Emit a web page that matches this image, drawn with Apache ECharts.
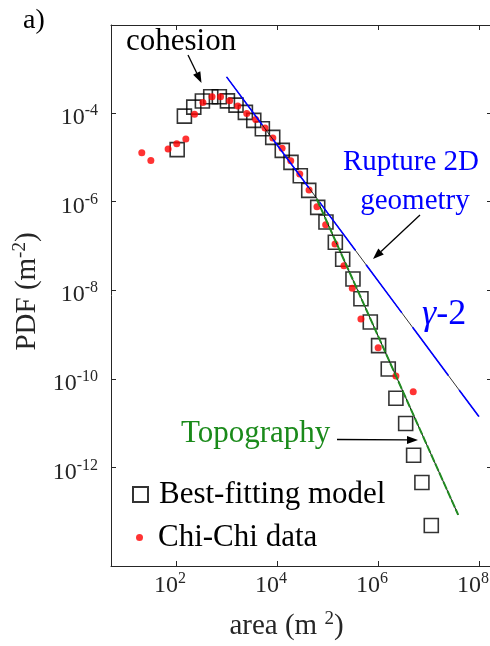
<!DOCTYPE html>
<html>
<head>
<meta charset="utf-8">
<script src="https://cdn.jsdelivr.net/npm/echarts@6/dist/echarts.min.js"></script>
<style>
html, body { margin: 0; padding: 0; background: #fff; }
#main { width: 490px; height: 646px; }
</style>
</head>
<body>
<div id="main"></div>
<script>
// best-fitting model (open squares)
var modelArea = [105, 146, 224, 332, 486, 719, 1040, 1540, 2360, 3460, 5120, 8220,
    1.27e4, 1.89e4, 2.89e4, 4.25e4, 6.40e4, 9.33e4, 1.43e5, 2.00e5, 3.20e5, 4.60e5,
    7.05e5, 1.03e6, 1.60e6, 2.27e6, 3.54e6, 5.09e6, 7.43e6, 1.14e7];
var modelPdf = [1.48e-5, 8.43e-5, 1.34e-4, 1.84e-4, 2.30e-4, 2.30e-4, 1.86e-4, 1.49e-4,
    1.02e-4, 6.75e-5, 4.36e-5, 2.79e-5, 1.42e-5, 7.62e-6, 3.80e-6, 1.78e-6, 7.38e-7,
    3.44e-7, 1.20e-7, 4.97e-8, 1.79e-8, 6.43e-9, 1.92e-9, 5.61e-10, 1.67e-10, 3.66e-11,
    9.82e-12, 1.90e-12, 4.59e-13, 4.93e-14];

// Chi-Chi data (red dots)
var dataArea = [20.9, 31.6, 69.5, 103, 156, 232, 340, 516, 760, 1150, 1670, 2510, 3780,
    5780, 8260, 1.26e4, 1.87e4, 2.82e4, 4.31e4, 6.19e4, 9.20e4, 1.41e5, 2.12e5, 3.10e5,
    4.60e5, 1.01e6, 2.27e6, 5.00e6];
var dataPdf = [1.26e-5, 8.38e-6, 1.52e-5, 2.00e-5, 2.58e-5, 9.25e-5, 1.71e-4, 2.29e-4,
    2.29e-4, 1.88e-4, 1.43e-4, 9.68e-5, 7.10e-5, 4.52e-5, 2.69e-5, 1.58e-5, 8.24e-6,
    4.16e-6, 1.81e-6, 7.62e-7, 2.99e-7, 1.10e-7, 3.56e-8, 1.10e-8, 2.24e-9, 5.06e-10,
    1.16e-10, 5.13e-11];

// power-law guides
var ruptureArea = [1e3, 1e8];
var rupturePdf = [6.46e-4, 1.41e-11];
var topoArea = [6.11e4, 3.89e7];
var topoPdf = [1.14e-6, 8.59e-14];

// tick exponents
var xTickExp = [2, 4, 6, 8];
var yTickExp = [-12, -10, -8, -6, -4];

var FONT = 'Liberation Serif';
var AXIS_COL = '#262626';

function logPairs(xs, ys) {
    return xs.map(function (x, i) { return [Math.log10(x), Math.log10(ys[i])]; });
}

var powRich = {
    b: { fontFamily: FONT, fontSize: 24, color: AXIS_COL, verticalAlign: 'bottom', lineHeight: 24 },
    s: { fontFamily: FONT, fontSize: 16, color: AXIS_COL, verticalAlign: 'bottom', lineHeight: 16, padding: [0, 0, 11, 0] }
};
function powLabel(v) { return '{b|10}{s|' + v + '}'; }

var nameRich = {
    a: { fontFamily: FONT, fontSize: 29, color: AXIS_COL, verticalAlign: 'bottom', lineHeight: 29 },
    s: { fontFamily: FONT, fontSize: 19, color: AXIS_COL, verticalAlign: 'bottom', lineHeight: 19, padding: [0, 0, 12, 0] }
};

function arrow(x1, y1, x2, y2) {
    var a = Math.atan2(y2 - y1, x2 - x1), L = 11, W = 4;
    var bx = x2 - L * Math.cos(a), by = y2 - L * Math.sin(a);
    return {
        type: 'group', children: [
            { type: 'line', shape: { x1: x1, y1: y1, x2: bx, y2: by }, style: { stroke: '#000', lineWidth: 1.3 } },
            { type: 'polygon', shape: { points: [[x2, y2],
                [bx + W * Math.sin(a), by - W * Math.cos(a)],
                [bx - W * Math.sin(a), by + W * Math.cos(a)]] }, style: { fill: '#000' } }
        ]
    };
}

function txt(str, x, y, size, color, align, rich) {
    return { type: 'text', x: x, y: y, style: { text: str, font: size + 'px "' + FONT + '"',
        fill: color, align: align || 'left', verticalAlign: 'middle', rich: rich } };
}

var xCommon = {
    type: 'value', min: 0.71, max: 8.26,
    axisLine: { lineStyle: { color: AXIS_COL, width: 1 } },
    axisTick: { inside: true, length: 5, customValues: xTickExp, lineStyle: { color: AXIS_COL } },
    splitLine: { show: false }
};
var yCommon = {
    type: 'value', min: -14.22, max: -2.02,
    axisLine: { lineStyle: { color: AXIS_COL, width: 1 } },
    axisTick: { inside: true, length: 5, customValues: yTickExp, lineStyle: { color: AXIS_COL } },
    splitLine: { show: false }
};

var legendText = { fontFamily: FONT, fontSize: 31, color: '#000' };

var chart = echarts.init(document.getElementById('main'));
chart.setOption({
    animation: false,
    backgroundColor: '#fff',
    grid: { left: 111, right: -2, top: 25, bottom: 80, containLabel: false, outerBoundsMode: 'none' },
    xAxis: [
        Object.assign({}, xCommon, {
            position: 'bottom',
            axisLabel: { customValues: xTickExp, formatter: powLabel, rich: powRich, margin: 8,
                padding: [0, 12, 0, 0] },
            name: '{a|area (m }{s|2}{a|)}', nameLocation: 'middle', nameGap: 46,
            nameTextStyle: { rich: nameRich, padding: [0, 30, 0, 0] }
        }),
        Object.assign({}, xCommon, { position: 'top', axisLabel: { show: false } })
    ],
    yAxis: [
        Object.assign({}, yCommon, {
            position: 'left',
            axisLabel: { customValues: yTickExp, formatter: powLabel, rich: powRich, margin: 13,
                padding: [10, 0, 0, 0] },
            name: '{a|PDF (m}{s|-2}{a|)}', nameLocation: 'middle', nameGap: 64,
            nameTextStyle: { rich: nameRich, padding: [0, 0, 0, 8] }
        }),
        Object.assign({}, yCommon, { position: 'right', axisLabel: { show: false } })
    ],
    legend: [
        { data: ['Best-fitting model'], left: 132, top: 479, padding: 0, itemWidth: 15, itemHeight: 15,
          selectedMode: false, textStyle: Object.assign({ padding: [0, 0, 0, 6] }, legendText) },
        { data: ['Chi-Chi data'], left: 136, top: 522, padding: 0, itemWidth: 7, itemHeight: 7,
          selectedMode: false, textStyle: Object.assign({ padding: [0, 0, 0, 10] }, legendText) }
    ],
    series: [
        { name: 'Best-fitting model', type: 'scatter', data: logPairs(modelArea, modelPdf),
          symbol: 'rect', symbolSize: 14, z: 2,
          itemStyle: { color: 'rgba(0,0,0,0)', borderColor: '#000', borderWidth: 1.6 } },
        { name: 'Chi-Chi data', type: 'scatter', data: logPairs(dataArea, dataPdf),
          symbol: 'circle', symbolSize: 7, z: 3, itemStyle: { color: '#ff0000' } },
        { type: 'line', data: logPairs(ruptureArea, rupturePdf), symbol: 'none', z: 4,
          lineStyle: { color: '#000', width: 0.8 } },
        { type: 'line', data: logPairs(ruptureArea, rupturePdf), symbol: 'none', z: 5,
          lineStyle: { color: '#0000ff', width: 1.6, type: [60, 18] } },
        { type: 'line', data: logPairs(topoArea, topoPdf), symbol: 'none', z: 4,
          lineStyle: { color: '#000', width: 1 } },
        { type: 'line', data: logPairs(topoArea, topoPdf), symbol: 'none', z: 5,
          lineStyle: { color: '#228b22', width: 2, type: [8, 2] } }
    ],
    graphic: [
        txt('a)', 23, 21, 28, '#000'),
        txt('cohesion', 126, 42, 31, '#000'),
        arrow(188, 55, 201.5, 83),
        txt('Rupture 2D', 411, 162, 29, '#0000ff', 'center'),
        txt('geometry', 415, 201, 29, '#0000ff', 'center'),
        arrow(420, 215, 373, 259),
        txt('{g|γ}-2', 422, 315, 36, '#0000ff', 'left', { g: { fontFamily: FONT, fontSize: 36, fontStyle: 'italic', fill: '#0000ff' } }),
        txt('Topography', 181, 434, 31, '#1a8a1a'),
        arrow(337, 439.5, 418, 440)
    ]
});
</script>
</body>
</html>
